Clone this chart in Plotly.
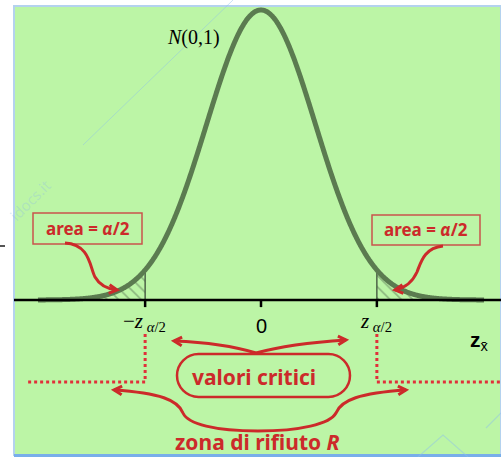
import numpy as np
import plotly.graph_objects as go

# ---- values -------------------------------------------------------------
z_crit = 2.13                      # critical value z_{alpha/2}
z_tail = 4.1                       # extent of the plotted density
tick_values = [-z_crit, 0.0, z_crit]
tick_labels = ["−<i>z</i><sub> <i>α</i>/2</sub>", "0", "<i>z</i><sub> <i>α</i>/2</sub>"]
curve_label = "<i>N</i>(0,1)"
area_label = "<b>area = <i>α</i>/2</b>"
critical_label = "<b>valori critici</b>"
rejection_label = "<b>zona di rifiuto <i>R</i></b>"
axis_label = "<b>z</b><sub>x̄</sub>"

# standard normal density N(0,1)
z = np.linspace(-z_tail, z_tail, 601)
pdf = np.exp(-z ** 2 / 2) / np.sqrt(2 * np.pi)

# ---- canvas / helpers ---------------------------------------------------
W, H = 501, 457
X_RANGE = [-4.798, 4.412]
Y_RANGE = [-0.216, 0.4127]
GREEN = "#bcf5a6"
CURVE = "#5b7b50"
RED = "#cc2a2a"
BOX = "#c9534c"


def xp(px):
    return px / W


def yp(py):
    return 1 - py / H


def pt(x, y):
    return f"{xp(x):.5f},{yp(y):.5f}"


def path(cmds):
    out = []
    for c in cmds:
        letter, coords = c[0], c[1:]
        pts = " ".join(pt(coords[i], coords[i + 1]) for i in range(0, len(coords), 2))
        out.append(f"{letter}{pts}")
    return " ".join(out)


def arrow_head(tip, frm, size=9, spread=0.5):
    tx, ty = tip
    dx, dy = tx - frm[0], ty - frm[1]
    n = np.hypot(dx, dy)
    dx, dy = dx / n, dy / n
    pts = []
    for s in (spread, -spread):
        c, sn = np.cos(s), np.sin(s)
        rx, ry = dx * c - dy * sn, dx * sn + dy * c
        pts.append((tx - size * rx, ty - size * ry))
    return path([("M", *pts[0]), ("L", tx, ty), ("L", *pts[1])])


def label(x, y, text, family, size, color, xref="paper", yref="paper", **kw):
    return dict(x=x, y=y, xref=xref, yref=yref, text=text, showarrow=False,
                xanchor="center", yanchor="middle",
                font=dict(family=family, size=size, color=color), **kw)


fig = go.Figure()
shapes = []
annotations = []

# panel background with thin borders
shapes.append(dict(type="rect", xref="paper", yref="paper", x0=xp(14), x1=1.0,
                   y0=yp(455), y1=yp(6), fillcolor=GREEN,
                   line=dict(color="#b4d2ee", width=2), layer="below"))
shapes.append(dict(type="rect", xref="paper", yref="paper", x0=xp(14), x1=1.0,
                   y0=0, y1=yp(454), fillcolor="#78aeea", line=dict(width=0),
                   layer="below"))
shapes.append(dict(type="line", xref="paper", yref="paper", x0=0, x1=xp(5),
                   y0=yp(246), y1=yp(246), line=dict(color="#555555", width=2)))

# faint watermark
wm = "rgba(140,190,235,0.45)"
shapes.append(dict(type="line", xref="paper", yref="paper", x0=xp(83), y0=yp(145),
                   x1=xp(233), y1=yp(0), line=dict(color=wm, width=1)))
shapes.append(dict(type="path", xref="paper", yref="paper",
                   path=path([("M", 418, 457), ("L", 443, 435), ("L", 468, 457)]),
                   line=dict(color=wm, width=1.2)))
shapes.append(dict(type="line", xref="paper", yref="paper", x0=xp(486), y0=yp(428),
                   x1=1.0, y1=yp(413), line=dict(color=wm, width=1.2)))
annotations.append(label(xp(30), yp(200), "idocs.it", "Noto Sans", 15,
                         "rgba(140,185,230,0.3)", textangle=-45))

# hatched tails
for side in (-1, 1):
    m = (z <= -z_crit) if side < 0 else (z >= z_crit)
    zt, pt_ = z[m], pdf[m]
    xs = np.concatenate([zt, zt[::-1]])
    ys = np.concatenate([pt_, np.zeros_like(pt_)])
    fig.add_trace(go.Scatter(x=xs, y=ys, fill="toself", mode="lines",
                             line=dict(width=0), fillcolor="rgba(0,0,0,0)",
                             fillpattern=dict(shape="\\", fgcolor="rgba(60,80,60,0.75)",
                                              bgcolor="rgba(0,0,0,0)", size=8, solidity=0.22),
                             hoverinfo="skip", showlegend=False))
    zc = side * z_crit
    fig.add_trace(go.Scatter(x=[zc, zc], y=[0, np.exp(-zc ** 2 / 2) / np.sqrt(2 * np.pi)],
                             mode="lines", line=dict(color="#3d4d3a", width=1.3),
                             hoverinfo="skip", showlegend=False))

# density curve
fig.add_trace(go.Scatter(x=z, y=pdf, mode="lines",
                         line=dict(color=CURVE, width=5, shape="spline"),
                         hoverinfo="skip", showlegend=False))

# horizontal axis and ticks
shapes.append(dict(type="line", xref="paper", yref="y", x0=xp(14), x1=1.0, y0=0, y1=0,
                   line=dict(color="black", width=2.5)))
for tv in tick_values:
    shapes.append(dict(type="line", xref="x", yref="y", x0=tv, x1=tv, y0=0, y1=-0.0098,
                       line=dict(color="black", width=2.5)))

# tick labels
for tv, lab in zip(tick_values, tick_labels):
    if lab == "0":
        annotations.append(label(tv, yp(326), lab, "Liberation Sans", 20, "black", xref="x"))
    else:
        annotations.append(label(tv, yp(322), lab, "Liberation Serif", 21, "black",
                                 xref="x", xshift=-1))

annotations.append(label(xp(479), yp(341), axis_label, "Liberation Sans", 21, "black"))
annotations.append(label(xp(193), yp(37), curve_label, "Liberation Serif", 20, "black"))

# "area = alpha/2" boxes
for (bx0, by0, bx1, by1) in [(33, 213, 142, 244), (372, 215, 480, 245)]:
    shapes.append(dict(type="rect", xref="paper", yref="paper", x0=xp(bx0), x1=xp(bx1),
                       y0=yp(by1), y1=yp(by0), line=dict(color=BOX, width=1.5)))
    annotations.append(label(xp((bx0 + bx1) / 2), yp((by0 + by1) / 2), area_label,
                             "Noto Sans", 17, RED))

# red curved arrows
arrows = [
    ([("M", 65, 243), ("C", 90, 244, 90, 268, 95, 277), ("C", 100, 286, 108, 289, 117, 290)],
     (117, 290), (108, 289)),
    ([("M", 443, 246), ("C", 424, 248, 421, 262, 417, 272), ("C", 412, 283, 405, 288, 395, 290)],
     (395, 290), (404, 289)),
    ([("M", 256, 353), ("C", 230, 345, 200, 342, 174, 341)], (174, 341), (184, 341.5)),
    ([("M", 256, 353), ("C", 285, 345, 315, 342, 346, 340)], (346, 340), (336, 340.5)),
    ([("M", 258, 431), ("C", 215, 431, 188, 424, 183, 413), ("C", 178, 400, 160, 393, 114, 390)],
     (114, 390), (124, 390.6)),
    ([("M", 258, 431), ("C", 300, 431, 330, 424, 336, 413), ("C", 341, 400, 360, 393, 406, 390)],
     (406, 390), (396, 390.6)),
]
for cmds, tip, frm in arrows:
    shapes.append(dict(type="path", xref="paper", yref="paper", path=path(cmds),
                       line=dict(color=RED, width=3)))
    shapes.append(dict(type="path", xref="paper", yref="paper", path=arrow_head(tip, frm),
                       line=dict(color=RED, width=3)))

# rounded frame around "valori critici"
L, R, T, B = 177, 350, 354, 397
r = (B - T) / 2
k = 0.5523 * r
cy = (T + B) / 2
stadium = [("M", L + r, T), ("L", R - r, T),
           ("C", R - r + k, T, R, cy - k, R, cy),
           ("C", R, cy + k, R - r + k, B, R - r, B),
           ("L", L + r, B),
           ("C", L + r - k, B, L, cy + k, L, cy),
           ("C", L, cy - k, L + r - k, T, L + r, T)]
shapes.append(dict(type="path", xref="paper", yref="paper", path=path(stadium) + " Z",
                   line=dict(color=RED, width=2.5)))
annotations.append(label(xp(254), yp(377), critical_label, "Noto Sans", 21, RED))
annotations.append(label(xp(257), yp(442), rejection_label, "Noto Sans", 21, RED))

# dotted boundaries of the rejection region
for side, edge in ((-1, 28), (1, W)):
    zc = side * z_crit
    x_edge = X_RANGE[0] + edge / W * (X_RANGE[1] - X_RANGE[0])
    shapes.append(dict(type="line", xref="x", yref="paper", x0=zc, x1=zc,
                       y0=yp(334), y1=yp(382), line=dict(color="#e0303a", width=3, dash="3px,3px")))
    shapes.append(dict(type="line", xref="x", yref="paper", x0=zc, x1=x_edge,
                       y0=yp(382), y1=yp(382), line=dict(color="#e0303a", width=3, dash="3px,3px")))

fig.update_layout(
    width=W, height=H, margin=dict(l=0, r=0, t=0, b=0),
    paper_bgcolor="white", plot_bgcolor="rgba(0,0,0,0)",
    xaxis=dict(range=X_RANGE, visible=False, fixedrange=True),
    yaxis=dict(range=Y_RANGE, visible=False, fixedrange=True),
    shapes=shapes, annotations=annotations, showlegend=False,
)

fig.write_html("out.html")
